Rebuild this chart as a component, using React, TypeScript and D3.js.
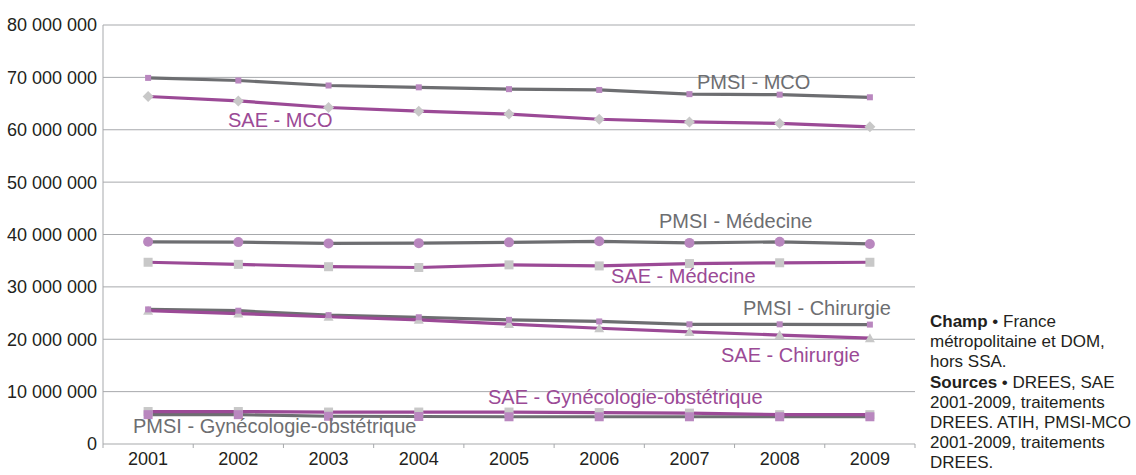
import React from "react";
import * as d3 from "d3";

const years = ["2001", "2002", "2003", "2004", "2005", "2006", "2007", "2008", "2009"];
const yTicks = [0, 10e6, 20e6, 30e6, 40e6, 50e6, 60e6, 70e6, 80e6];

const pmsiMCO = [69.9e6, 69.4e6, 68.45e6, 68.1e6, 67.75e6, 67.6e6, 66.8e6, 66.7e6, 66.2e6];
const saeMCO = [66.35e6, 65.5e6, 64.25e6, 63.55e6, 63.0e6, 62.0e6, 61.5e6, 61.2e6, 60.55e6];
const pmsiMed = [38.6e6, 38.55e6, 38.3e6, 38.35e6, 38.5e6, 38.7e6, 38.4e6, 38.6e6, 38.2e6];
const saeMed = [34.7e6, 34.3e6, 33.85e6, 33.7e6, 34.2e6, 34.0e6, 34.45e6, 34.6e6, 34.7e6];
const pmsiChir = [25.7e6, 25.45e6, 24.6e6, 24.2e6, 23.7e6, 23.4e6, 22.85e6, 22.85e6, 22.8e6];
const saeChir = [25.45e6, 24.9e6, 24.3e6, 23.7e6, 22.9e6, 22.1e6, 21.4e6, 20.8e6, 20.2e6];
const pmsiGyn = [5.6e6, 5.6e6, 5.3e6, 5.25e6, 5.2e6, 5.2e6, 5.2e6, 5.2e6, 5.2e6];
const saeGyn = [6.2e6, 6.2e6, 6.1e6, 6.1e6, 6.1e6, 6.0e6, 5.9e6, 5.6e6, 5.6e6];

const noteLines: { bold?: string; text: string }[] = [
  { bold: "Champ", text: " \u2022 France" },
  { text: "métropolitaine et DOM," },
  { text: "hors SSA." },
  { bold: "Sources", text: " \u2022 DREES, SAE" },
  { text: "2001-2009, traitements" },
  { text: "DREES. ATIH, PMSI-MCO" },
  { text: "2001-2009, traitements" },
  { text: "DREES." },
];

const GRAY_LINE = "#6d6e71";
const PURPLE_LINE = "#9b4a96";
const PINK_MARK = "#b987bf";
const GRAY_MARK = "#c8c8c8";
const GRID = "#a7a9ac";
const TEXT = "#231f20";
const FONT = "'Liberation Sans', Arial, Helvetica, sans-serif";

type Shape = "square" | "diamond" | "circle" | "triangle";
interface Series {
  name: string;
  values: number[];
  line: string;
  mark: string;
  shape: Shape;
  size: number;
}

const saeSeries: Series[] = [
  { name: "SAE - MCO", values: saeMCO, line: PURPLE_LINE, mark: GRAY_MARK, shape: "diamond", size: 11 },
  { name: "SAE - Médecine", values: saeMed, line: PURPLE_LINE, mark: GRAY_MARK, shape: "square", size: 9 },
  { name: "SAE - Chirurgie", values: saeChir, line: PURPLE_LINE, mark: GRAY_MARK, shape: "triangle", size: 10 },
  { name: "SAE - Gynécologie-obstétrique", values: saeGyn, line: PURPLE_LINE, mark: GRAY_MARK, shape: "square", size: 9 },
];
const pmsiSeries: Series[] = [
  { name: "PMSI - MCO", values: pmsiMCO, line: GRAY_LINE, mark: PINK_MARK, shape: "square", size: 6 },
  { name: "PMSI - Médecine", values: pmsiMed, line: GRAY_LINE, mark: PINK_MARK, shape: "circle", size: 10 },
  { name: "PMSI - Chirurgie", values: pmsiChir, line: GRAY_LINE, mark: PINK_MARK, shape: "square", size: 6 },
  { name: "PMSI - Gynécologie-obstétrique", values: pmsiGyn, line: GRAY_LINE, mark: PINK_MARK, shape: "square", size: 9 },
];

const labels = [
  { text: "PMSI - MCO", x: 697, y: 89, color: GRAY_LINE },
  { text: "SAE - MCO", x: 228, y: 127, color: PURPLE_LINE },
  { text: "PMSI - Médecine", x: 659, y: 228, color: GRAY_LINE },
  { text: "SAE - Médecine", x: 611, y: 283, color: PURPLE_LINE },
  { text: "PMSI - Chirurgie", x: 743, y: 315, color: GRAY_LINE },
  { text: "SAE - Chirurgie", x: 721, y: 362, color: PURPLE_LINE },
  { text: "SAE - Gynécologie-obstétrique", x: 488, y: 404, color: PURPLE_LINE },
  { text: "PMSI - Gynécologie-obstétrique", x: 133, y: 433, color: GRAY_LINE },
];

export default function App() {
  const W = 1136;
  const H = 475;
  const left = 103;
  const right = 915;
  const top = 25;
  const bottom = 444;

  const x = d3.scaleBand<string>().domain(years).range([left, right]);
  const y = d3.scaleLinear().domain([0, 80e6]).range([bottom, top]);
  const cx = (yr: string) => (x(yr) as number) + x.bandwidth() / 2;

  const lineGen = d3
    .line<number>()
    .x((_, i) => cx(years[i]))
    .y((v) => y(v));

  const fmt = (v: number) => d3.format(",")(v).replace(/,/g, " ");

  const marker = (s: Series, v: number, i: number) => {
    const px = cx(years[i]);
    const py = y(v);
    const r = s.size / 2;
    if (s.shape === "circle") return <circle key={i} cx={px} cy={py} r={r} fill={s.mark} />;
    if (s.shape === "square")
      return <rect key={i} x={px - r} y={py - r} width={s.size} height={s.size} fill={s.mark} />;
    if (s.shape === "diamond")
      return (
        <path key={i} d={`M${px},${py - r}L${px + r},${py}L${px},${py + r}L${px - r},${py}Z`} fill={s.mark} />
      );
    return (
      <path key={i} d={`M${px},${py - r}L${px + r},${py + r * 0.8}L${px - r},${py + r * 0.8}Z`} fill={s.mark} />
    );
  };

  const bounds = years.map((yr) => x(yr) as number).concat([right]);

  return (
    <svg width={W} height={H} style={{ position: "absolute", left: 0, top: 0, background: "#fff" }} fontFamily={FONT}>
      <rect width={W} height={H} fill="#fff" />
      {yTicks.map((t) => (
        <g key={t}>
          {t > 0 && <line x1={left} x2={right} y1={y(t)} y2={y(t)} stroke={GRID} strokeWidth={1} />}
          <text x={97} y={y(t)} dy="0.36em" textAnchor="end" fontSize={18} fill={TEXT}>
            {fmt(t)}
          </text>
        </g>
      ))}
      <line x1={left} x2={left} y1={top} y2={bottom} stroke={GRID} strokeWidth={1} />
      <line x1={left} x2={right} y1={bottom} y2={bottom} stroke={GRID} strokeWidth={1.2} />
      {bounds.map((b, i) => (
        <line key={i} x1={b} x2={b} y1={bottom} y2={bottom + 4} stroke={GRID} strokeWidth={1} />
      ))}
      {years.map((yr) => (
        <text key={yr} x={cx(yr)} y={465} textAnchor="middle" fontSize={18} fill={TEXT}>
          {yr}
        </text>
      ))}
      {pmsiSeries.map((s) => (
        <path key={s.name} d={lineGen(s.values) || ""} fill="none" stroke={s.line} strokeWidth={3.2} />
      ))}
      {saeSeries.map((s) => (
        <path key={s.name} d={lineGen(s.values) || ""} fill="none" stroke={s.line} strokeWidth={3.2} />
      ))}
      {saeSeries.map((s) => (
        <g key={s.name}>{s.values.map((v, i) => marker(s, v, i))}</g>
      ))}
      {pmsiSeries.map((s) => (
        <g key={s.name}>{s.values.map((v, i) => marker(s, v, i))}</g>
      ))}
      {labels.map((l) => (
        <text key={l.text} x={l.x} y={l.y} fontSize={20} fill={l.color}>
          {l.text}
        </text>
      ))}
      {noteLines.map((l, i) => (
        <text key={i} x={930} y={327 + i * 20.2} fontSize={17} fill={TEXT}>
          {l.bold && <tspan fontWeight="bold">{l.bold}</tspan>}
          <tspan>{l.text}</tspan>
        </text>
      ))}
    </svg>
  );
}
